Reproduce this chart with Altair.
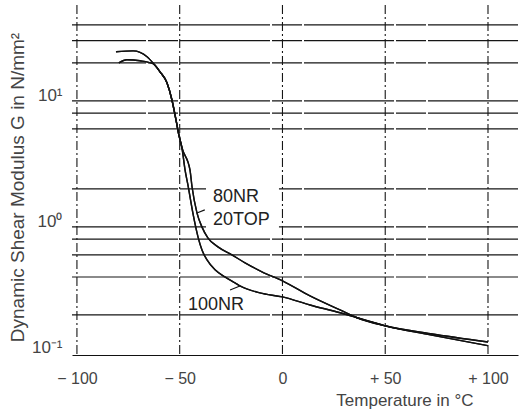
import altair as alt
import pandas as pd

# ---- data ----
T_100NR = [-79.6, -75.7, -69.3, -63.0, -59.6, -56.2, -53.8, -51.8, -50.4, -48.9, -47.4, -46.0, -43.6,
           -41.1, -39.2, -36.7, -32.8, -28.0, -23.1, -20.7, -11.0, 0.0, 13.4, 28.0, 36.3, 50.0, 72.0, 100.0]
G_100NR = [20.0, 21.2, 20.8, 19.7, 17.0, 13.9, 10.2, 7.07, 5.37, 4.24, 2.83, 2.15, 1.29,
           0.833, 0.657, 0.547, 0.456, 0.401, 0.359, 0.340, 0.299, 0.278, 0.240, 0.208, 0.190, 0.164, 0.139, 0.114]

T_80NR20TOP = [-81.0, -72.7, -65.9, -63.0, -59.6, -56.2, -53.8, -51.8, -50.4, -48.9, -45.0, -44.0, -41.6,
               -39.2, -36.3, -31.4, -24.6, -18.2, -10.0, 0.0, 13.4, 28.0, 36.3, 50.0, 72.0, 100.0]
G_80NR20TOP = [24.5, 24.9, 22.4, 20.0, 17.0, 13.9, 10.2, 7.07, 5.37, 4.24, 2.83, 2.08, 1.29,
               1.0, 0.818, 0.694, 0.600, 0.518, 0.440, 0.373, 0.283, 0.219, 0.190, 0.164, 0.142, 0.122]

h_grid = [0.2, 0.4, 0.6, 0.8, 1, 2, 6, 8, 10, 20, 30, 40]
v_grid = [-100, -50, 0, 50, 100]

x_ticks = [-100, -50, 0, 50, 100]
y_ticks = [0.1, 1, 10]

label_text = ["80NR", "20TOP", "100NR"]
label_T = [-33.8, -33.8, -46.0]
label_G = [1.73, 1.137, 0.240]

leader_T = [-41.6, -25.5]
leader_T2 = [-37.8, -20.7]
leader_G = [1.29, 0.316]
leader_G2 = [1.364, 0.340]

box_T = [-37.2]
box_T2 = [-1.7]
box_G = [2.15]
box_G2 = [0.929]

# ---- tables ----
curves = pd.concat([
    pd.DataFrame({"T": T_100NR, "G": G_100NR, "series": "100NR"}),
    pd.DataFrame({"T": T_80NR20TOP, "G": G_80NR20TOP, "series": "80NR/20TOP"}),
])
hg = pd.DataFrame({"G": h_grid})
vg = pd.DataFrame({"T": v_grid})
labels = pd.DataFrame({"text": label_text, "T": label_T, "G": label_G})
leaders = pd.DataFrame({"T": leader_T, "T2": leader_T2, "G": leader_G, "G2": leader_G2})
box = pd.DataFrame({"T": box_T, "T2": box_T2, "G": box_G, "G2": box_G2})

FONT = "Liberation Sans"
xs = alt.Scale(domain=[-102.4, 114.6], nice=False, zero=False)
ys = alt.Scale(type="log", domain=[0.0962, 57.6], nice=False)

x_axis = alt.Axis(
    values=x_ticks,
    labelExpr="datum.value == -100 ? '\u2212 100' : datum.value == -50 ? '\u2212 50' : datum.value == 0 ? '0' : datum.value == 50 ? '+ 50' : '+ 100'",
    grid=False, ticks=False, domain=True, domainColor="#111", domainWidth=1.2,
    labelFont=FONT, labelFontSize=16, labelColor="#444", labelPadding=15,
    title="Temperature in \u00b0C", titleFont=FONT, titleFontSize=17, titleFontWeight="normal",
    titleColor="#444", titleX=401, titleY=45, titleAlign="right", titleBaseline="middle",
)
y_axis = alt.Axis(
    values=y_ticks,
    labelExpr="datum.value < 0.5 ? '10\u207b\u00b9' : datum.value < 5 ? '10\u2070' : '10\u00b9'",
    grid=False, ticks=False, domain=False,
    labelFont=FONT, labelFontSize=17, labelColor="#444", labelPadding=10, labelOffset=-5,
    title="Dynamic Shear Modulus G in N/mm\u00b2", titleFont=FONT, titleFontSize=19,
    titleFontWeight="normal", titleColor="#444", titleX=-55, titleY=182,
    titleAlign="center", titleBaseline="middle", titleAngle=-90,
)

X = lambda f: alt.X(f, scale=xs, axis=x_axis)
Y = lambda f: alt.Y(f, scale=ys, axis=y_axis)

hrules = alt.Chart(hg).mark_rule(color="#161616", strokeWidth=1.2, strokeDash=[90, 2, 30, 2]).encode(
    y=Y("G:Q")
)
vrules = alt.Chart(vg).mark_rule(color="#161616", strokeWidth=1.1, strokeDash=[9, 3, 2, 3]).encode(
    x=X("T:Q")
)
whitebox = alt.Chart(box).mark_rect(color="white").encode(
    x=X("T:Q"), x2="T2:Q", y=Y("G:Q"), y2="G2:Q",
)
lines = alt.Chart(curves).mark_line(interpolate="monotone", color="#111", strokeWidth=1.4).encode(
    x=X("T:Q"), y=Y("G:Q"), detail="series:N",
)
leader_rules = alt.Chart(leaders).mark_rule(color="#111", strokeWidth=1.1).encode(
    x=X("T:Q"), x2="T2:Q", y=Y("G:Q"), y2="G2:Q",
)
texts = alt.Chart(labels).mark_text(align="left", baseline="middle", font=FONT, fontSize=18, color="#222").encode(
    x=X("T:Q"), y=Y("G:Q"), text="text:N",
)

chart = alt.layer(lines, hrules, vrules, whitebox, lines, leader_rules, texts).properties(
    width=446, height=350,
    autosize=alt.AutoSizeParams(type="none"),
    padding={"left": 72, "top": 5, "right": 9, "bottom": 59},
    background="white",
).configure_view(stroke=None)

chart.save("out.html", embed_options={"renderer": "svg", "actions": False})
